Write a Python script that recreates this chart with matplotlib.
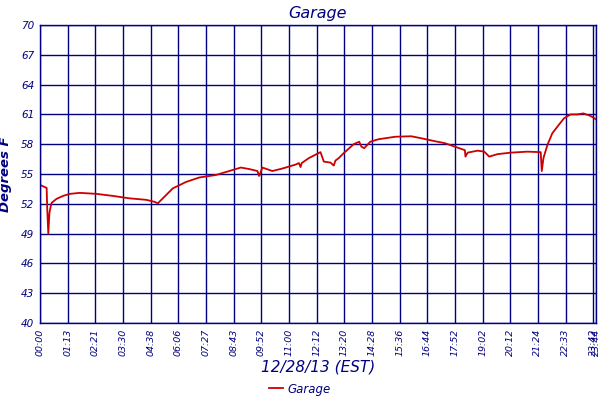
import matplotlib
matplotlib.use("Agg")
import matplotlib.pyplot as plt
import numpy as np

# sample index vs temperature
sample = [0, 12, 13, 15, 17, 18, 21, 30, 42, 54, 72, 102, 131, 162, 192, 207, 213,
          222, 240, 264, 288, 318, 348, 363, 378, 393, 396, 402, 420, 438, 462, 468,
          471, 473, 486, 507, 513, 525, 531, 534, 540, 549, 567, 577, 581, 586, 597,
          612, 642, 671, 689, 714, 732, 750, 768, 769, 773, 791, 803, 812, 827, 851,
          881, 905, 907, 910, 917, 926, 935, 947, 959, 971, 982, 995, 1005]
temp = [53.9, 53.6, 51.6, 49.0, 51.0, 51.4, 52.1, 52.5, 52.8, 53.0, 53.1, 53.0, 52.8,
        52.55, 52.4, 52.2, 52.05, 52.55, 53.55, 54.2, 54.65, 54.9, 55.4, 55.65, 55.5,
        55.3, 54.8, 55.65, 55.3, 55.55, 55.95, 56.1, 55.7, 56.1, 56.6, 57.2, 56.25,
        56.15, 55.85, 56.35, 56.6, 57.1, 58.0, 58.25, 57.75, 57.6, 58.25, 58.5, 58.75,
        58.8, 58.6, 58.3, 58.1, 57.75, 57.4, 56.75, 57.15, 57.35, 57.25, 56.75, 57.0,
        57.15, 57.25, 57.2, 55.3, 56.6, 57.9, 59.1, 59.75, 60.6, 61.0, 61.0, 61.1,
        60.85, 60.5]

tick_pos = list(range(0, 1001, 50)) + [1005]
tick_labels = ['00:00', '01:13', '02:21', '03:30', '04:38', '06:06', '07:27', '08:43',
               '09:52', '11:00', '12:12', '13:20', '14:28', '15:36', '16:44', '17:52',
               '19:02', '20:12', '21:24', '22:33', '23:42', '23:44']
y_ticks = [40, 43, 46, 49, 52, 55, 58, 61, 64, 67, 70]

navy = '#000080'
red = '#cc0000'

fig = plt.figure(figsize=(6, 4), dpi=100)
ax = fig.add_axes([40 / 600, 77 / 400, 556 / 600, 298 / 400])

ax.plot(sample, temp, color=red, lw=1.3, label='Garage')

ax.set_xlim(0, 1005)
ax.set_ylim(40, 70)
ax.set_xticks(tick_pos)
ax.set_xticklabels(tick_labels, rotation=90, fontsize=6.8, style='italic', color=navy)
ax.set_yticks(y_ticks)
ax.set_yticklabels([str(v) for v in y_ticks], fontsize=7.5, style='italic', color=navy)
ax.tick_params(length=0, pad=4)
ax.grid(True, color=navy, lw=1.0)
for s in ax.spines.values():
    s.set_color(navy)
    s.set_linewidth(1.0)

ax.set_title('Garage', fontsize=11.5, style='italic', color=navy, pad=5)
ax.set_xlabel('12/28/13 (EST)', fontsize=11, style='italic', color=navy, labelpad=3)
ax.set_ylabel('Degrees F', fontsize=9.5, style='italic', weight='bold', color=navy)
ax.yaxis.set_label_coords(-0.05, 0.5)

fig.legend(loc='center', bbox_to_anchor=(0.5, 11 / 400), frameon=False,
           prop={'style': 'italic', 'size': 8.5}, labelcolor=navy, handlelength=1.2,
           handletextpad=0.4, borderpad=0)

fig.savefig('out.png', dpi=100)
